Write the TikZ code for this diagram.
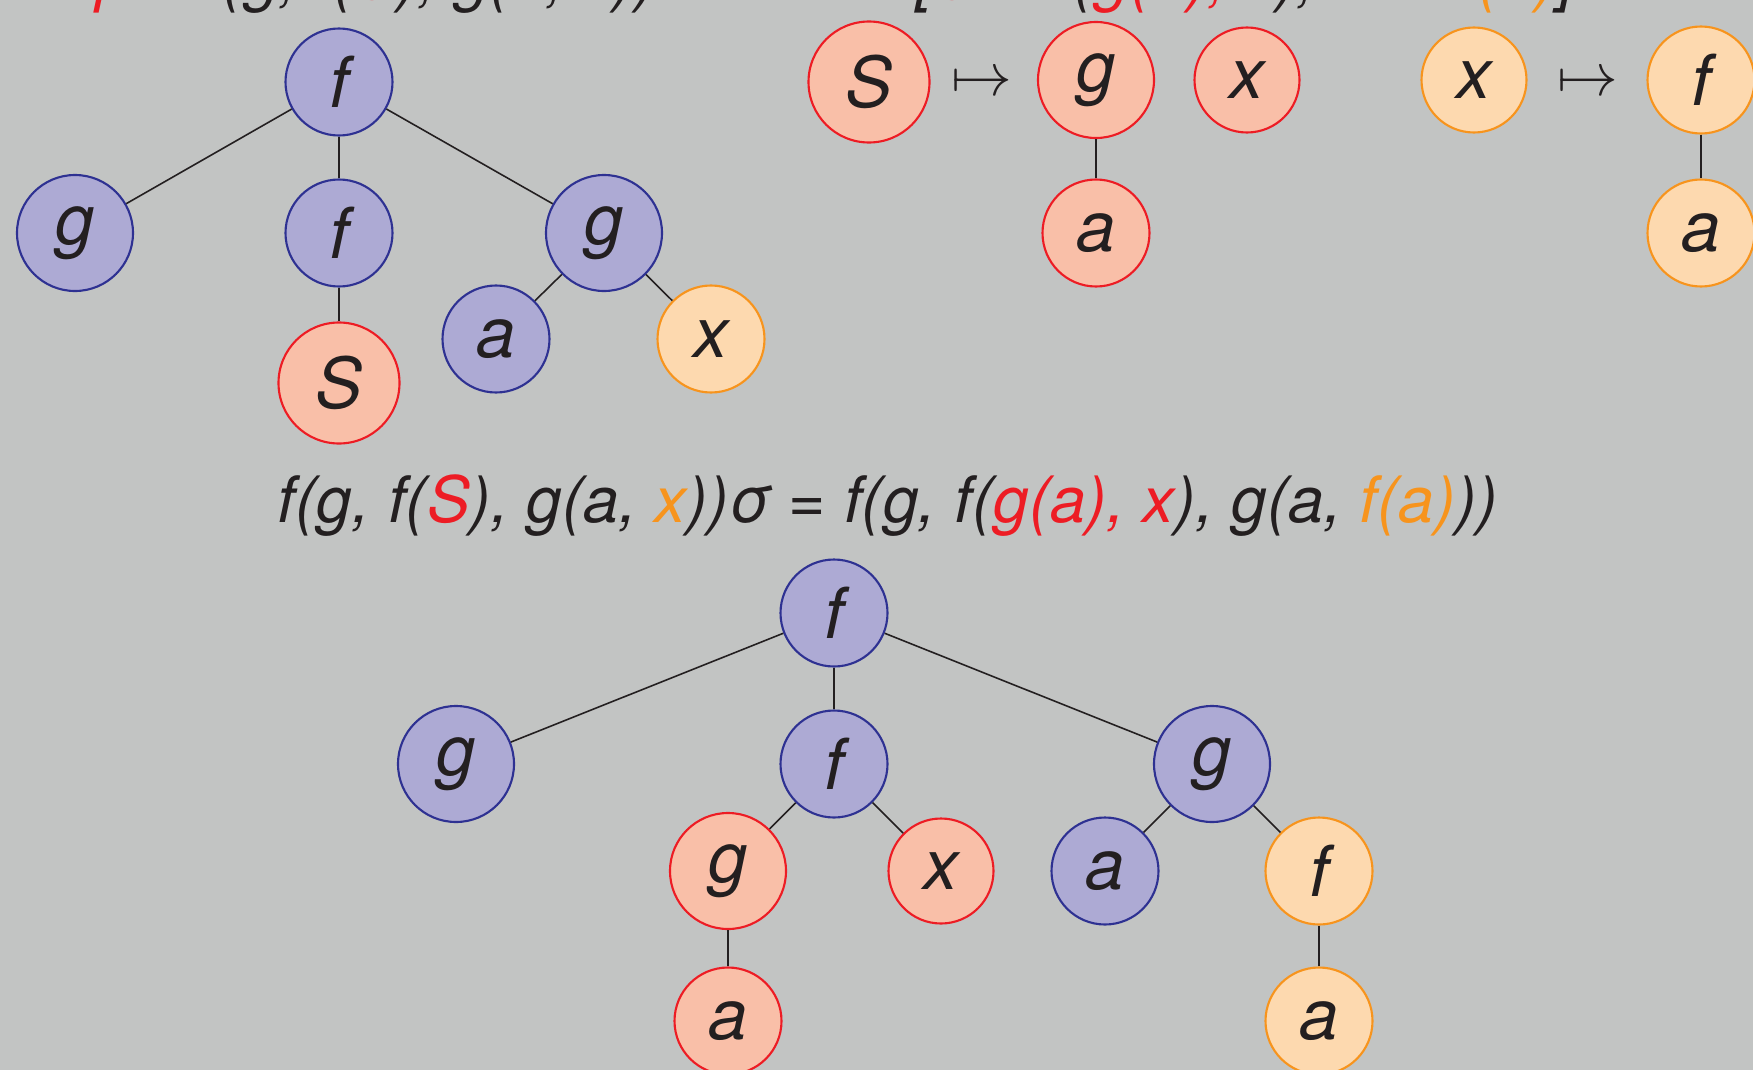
\documentclass[tikz,border=0pt]{standalone}
\usepackage{fontspec}
\setmainfont{TeX Gyre Heros}
\usetikzlibrary{positioning}

\definecolor{bgray}{HTML}{C2C4C3}
\definecolor{ink}{HTML}{231F20}
\definecolor{funfill}{HTML}{ADAAD4}
\definecolor{funline}{HTML}{2E3192}
\definecolor{holefill}{HTML}{F9BFA8}
\definecolor{holeline}{HTML}{ED1C24}
\definecolor{varfill}{HTML}{FDD9AF}
\definecolor{varline}{HTML}{F7941D}

\newcommand\letterfont{\fontsize{20}{24}\selectfont\itshape}
\newcommand\eqfont{\fontsize{18.2}{22}\selectfont\itshape}
\newcommand\topfont{\fontsize{18.2}{22}\selectfont\itshape}
\newcommand\arrowfont{\fontsize{17}{20}\selectfont}

\begin{document}
\begin{tikzpicture}[x=0.1mm, y=-0.1mm,
    fterm/.style={circle, draw=funline, fill=funfill, line width=0.6pt,
        inner sep=0pt, minimum size=10.7mm, text=ink, font=\letterfont},
    sterm/.style={fterm, draw=holeline, fill=holefill},
    xterm/.style={fterm, draw=varline, fill=varfill},
    wide/.style={minimum size=11.6mm},
    widest/.style={minimum size=12.1mm},
    branch/.style={draw=ink, line width=0.45pt}]
    % Background and page size
    \fill[bgray] (0,0) rectangle (1753,1070);
    \useasboundingbox (0,0) rectangle (1753,1070);
    % Top line, cut off by the page edge
    \node[anchor=base west, inner sep=0pt, text=ink, font=\topfont] (lhs) at (96,-1)
        {\textcolor{holeline}{p} = f(g, f(\textcolor{holeline}{S}), g(a, \textcolor{varline}{x}))};
    \node[anchor=base west, inner sep=0pt, text=ink, font=\topfont] (subst) at (916,-1)
        {[\textcolor{holeline}{S} $\mapsto$ (\textcolor{holeline}{g(a), x}), \textcolor{varline}{x} $\mapsto$ \textcolor{varline}{f(a)}]};
    % Term before substitution
    \node[fterm] (t0) at (339,82) {f};
    \node[fterm, wide] (t1) at (75,233) {g};
    \node[fterm] (t2) at (339,233) {f};
    \node[fterm, wide] (t3) at (604,233) {g};
    \node[sterm, widest] (t4) at (339,383) {S};
    \node[fterm] (t5) at (496,339) {a};
    \node[xterm] (t6) at (711,339) {x};
    % Substitution
    \node[sterm, widest] (s0) at (869,82) {S};
    \node[text=ink, font=\arrowfont] (m1) at (982,84) {$\mapsto$};
    \node[sterm, wide] (s1) at (1096,80) {g};
    \node[sterm] (s2) at (1096,233) {a};
    \node[sterm, minimum size=10.5mm] (s3) at (1247,80) {x};
    \node[xterm, minimum size=10.5mm] (x0) at (1474,80) {x};
    \node[text=ink, font=\arrowfont] (m2) at (1588,84) {$\mapsto$};
    \node[xterm] (x1) at (1701,80) {f};
    \node[xterm] (x2) at (1701,233) {a};
    % Equation
    \node[text=ink, font=\eqfont] (eq) at (888,506)
        {f(g, f(\textcolor{holeline}{S}), g(a, \textcolor{varline}{x}))σ = f(g, f(\textcolor{holeline}{g(a), x}), g(a, \textcolor{varline}{f(a)}))};
    % Term after substitution
    \node[fterm] (b0) at (834,613) {f};
    \node[fterm, wide] (b1) at (456,764) {g};
    \node[fterm] (b2) at (834,764) {f};
    \node[fterm, wide] (b3) at (1212,764) {g};
    \node[sterm, wide] (b4) at (728,871) {g};
    \node[sterm, minimum size=10.5mm] (b5) at (941,871) {x};
    \node[sterm] (b6) at (728,1021) {a};
    \node[fterm] (b7) at (1105,871) {a};
    \node[xterm] (b8) at (1319,871) {f};
    \node[xterm] (b9) at (1319,1021) {a};
    % Branches
    \foreach \a/\b in {t0/t1, t0/t2, t0/t3, t2/t4, t3/t5, t3/t6, s1/s2, x1/x2,
        b0/b1, b0/b2, b0/b3, b2/b4, b2/b5, b4/b6, b3/b7, b3/b8, b8/b9}
        \draw[branch] (\a) -- (\b);
\end{tikzpicture}
\end{document}
